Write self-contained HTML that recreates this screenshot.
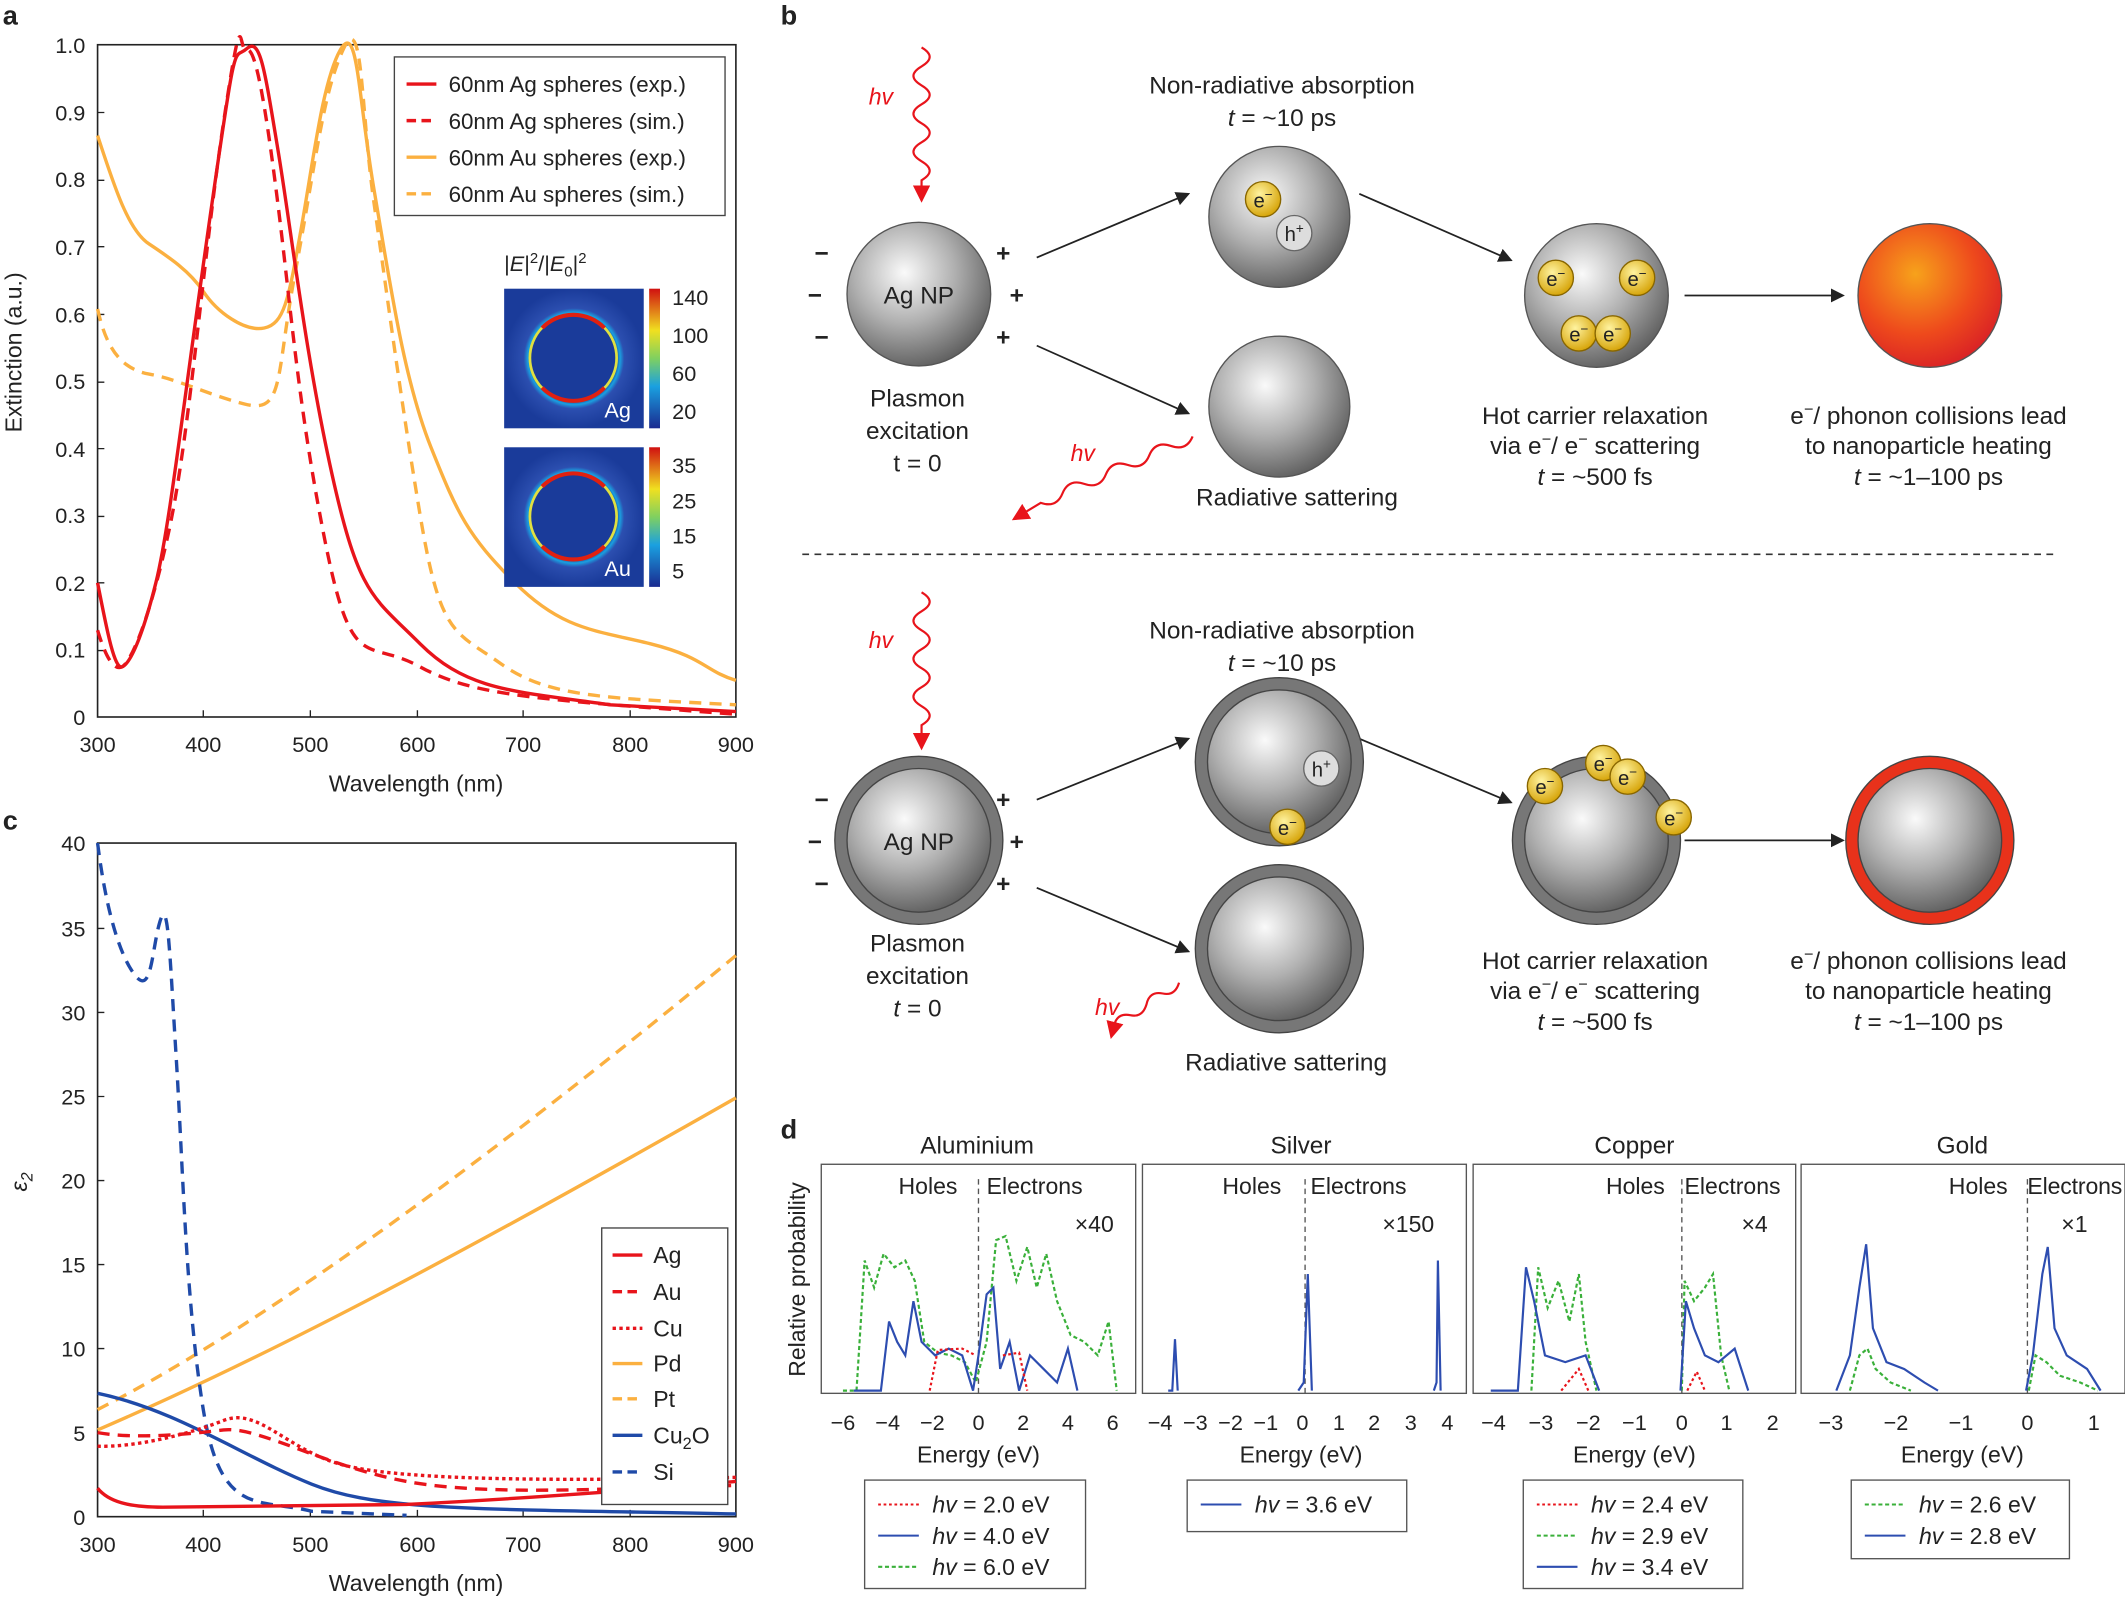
<!DOCTYPE html>
<html><head><meta charset="utf-8"><style>
html,body{margin:0;padding:0;background:#fff}
svg{display:block}
text{font-family:"Liberation Sans",sans-serif;fill:#222}
</style></head><body>
<svg width="2125" height="1598" viewBox="0 0 1568 1179" preserveAspectRatio="none" xmlns="http://www.w3.org/2000/svg">
<defs>
<radialGradient id="sph" cx="0.4" cy="0.35" r="0.7"><stop offset="0" stop-color="#fafafa"/><stop offset="0.5" stop-color="#b0b0b0"/><stop offset="1" stop-color="#5a5a5a"/></radialGradient>
<radialGradient id="hot" cx="0.4" cy="0.35" r="0.7"><stop offset="0" stop-color="#f7a21b"/><stop offset="0.6" stop-color="#ee4a1c"/><stop offset="1" stop-color="#d81f26"/></radialGradient>
<radialGradient id="el" cx="0.4" cy="0.35" r="0.7"><stop offset="0" stop-color="#fff3a0"/><stop offset="1" stop-color="#d4a000"/></radialGradient>
<radialGradient id="hm" cx="0.5" cy="0.5" r="0.5"><stop offset="0.6" stop-color="#1a3b9a"/><stop offset="0.66" stop-color="#1aa0e0"/><stop offset="0.72" stop-color="#2c4fb0"/><stop offset="1" stop-color="#1a3b9a"/></radialGradient>
<linearGradient id="cb" x1="0" y1="1" x2="0" y2="0"><stop offset="0" stop-color="#1a2a90"/><stop offset="0.3" stop-color="#1aa0e0"/><stop offset="0.5" stop-color="#7fd060"/><stop offset="0.7" stop-color="#f0e020"/><stop offset="1" stop-color="#d01010"/></linearGradient>
<marker id="ar" markerWidth="8" markerHeight="8" refX="7" refY="4" orient="auto"><path d="M0,0 L8,4 L0,8 z" fill="#222"/></marker>
<marker id="arr" markerWidth="8" markerHeight="8" refX="7" refY="4" orient="auto"><path d="M0,0 L8,4 L0,8 z" fill="#e8141b"/></marker>
</defs>

<!-- Panel a -->
<text x="2" y="18" font-size="20" font-weight="bold">a</text>
<rect x="72" y="33" width="471" height="496" fill="none" stroke="#222" stroke-width="1.2"/>
<g font-size="16" text-anchor="end">
<text x="63" y="535">0</text><text x="63" y="485">0.1</text><text x="63" y="436">0.2</text><text x="63" y="386">0.3</text><text x="63" y="337">0.4</text><text x="63" y="287">0.5</text><text x="63" y="238">0.6</text><text x="63" y="188">0.7</text><text x="63" y="138">0.8</text><text x="63" y="89">0.9</text><text x="63" y="39">1.0</text>
</g>
<g stroke="#222"><path d="M72,480h5M72,430h5M72,381h5M72,331h5M72,282h5M72,232h5M72,182h5M72,133h5M72,83h5M150,529v-5M229,529v-5M308,529v-5M386,529v-5M465,529v-5"/></g>
<g font-size="16" text-anchor="middle"><text x="72" y="555">300</text><text x="150" y="555">400</text><text x="229" y="555">500</text><text x="308" y="555">600</text><text x="386" y="555">700</text><text x="465" y="555">800</text><text x="543" y="555">900</text></g>
<text x="307" y="584" font-size="17" text-anchor="middle">Wavelength (nm)</text>
<text transform="translate(16,260) rotate(-90)" font-size="17" text-anchor="middle">Extinction (a.u.)</text>
<g fill="none" stroke-width="2.5">
<path stroke="#fbb040" d="M72,100 C85,140 95,170 110,180 S140,200 150,215 S180,245 195,242 S213,220 222,170 S238,60 251,37 S264,70 276,140 S298,280 318,330 S345,395 380,430 S440,465 480,475 S520,495 543,502"/>
<path stroke="#fbb040" stroke-dasharray="9,6" d="M72,228 C78,255 88,272 110,276 S150,290 180,298 S203,280 218,200 S238,70 253,37 S266,80 276,150 S295,290 310,380 S335,465 370,490 S450,515 543,520"/>
<path stroke="#e8141b" d="M72,430 C78,460 84,494 90,492 S105,470 115,430 S135,300 155,160 S172,45 182,36 S195,50 205,110 S225,260 245,350 S275,440 310,475 S380,510 450,520 L543,525"/>
<path stroke="#e8141b" stroke-dasharray="9,6" d="M72,465 C78,485 84,495 90,492 S110,460 125,390 S150,190 165,90 S176,40 182,37 S195,70 205,150 S220,300 240,400 S270,470 310,492 S400,516 543,527"/>
</g>
<rect x="291" y="42" width="244" height="117" fill="#fff" stroke="#444"/>
<g font-size="16.5">
<path d="M300,62h22" stroke="#e8141b" stroke-width="2.5"/><text x="331" y="68">60nm Ag spheres (exp.)</text>
<path d="M300,89h22" stroke="#e8141b" stroke-width="2.5" stroke-dasharray="7,4"/><text x="331" y="95">60nm Ag spheres (sim.)</text>
<path d="M300,116h22" stroke="#fbb040" stroke-width="2.5"/><text x="331" y="122">60nm Au spheres (exp.)</text>
<path d="M300,143h22" stroke="#fbb040" stroke-width="2.5" stroke-dasharray="7,4"/><text x="331" y="149">60nm Au spheres (sim.)</text>
</g>
<text x="372" y="200" font-size="16">|<tspan font-style="italic">E</tspan>|<tspan dy="-6" font-size="11">2</tspan><tspan dy="6">/|</tspan><tspan font-style="italic">E</tspan><tspan dy="4" font-size="11">0</tspan><tspan dy="-4">|</tspan><tspan dy="-6" font-size="11">2</tspan></text>
<rect x="372" y="213" width="103" height="103" fill="url(#hm)"/>
<circle cx="423" cy="264" r="32" fill="#1a3b9a" stroke="#e0e040" stroke-width="2"/>
<path d="M400,242 A32,32 0 0 1 446,242" stroke="#e02010" stroke-width="3" fill="none"/><path d="M400,286 A32,32 0 0 0 446,286" stroke="#e02010" stroke-width="3" fill="none"/>
<text x="446" y="308" font-size="16" style="fill:#fff">Ag</text>
<rect x="479" y="213" width="8" height="103" fill="url(#cb)"/>
<g font-size="16"><text x="496" y="225">140</text><text x="496" y="253">100</text><text x="496" y="281">60</text><text x="496" y="309">20</text></g>
<rect x="372" y="330" width="103" height="103" fill="url(#hm)"/>
<circle cx="423" cy="381" r="32" fill="#1a3b9a" stroke="#e0e040" stroke-width="2"/>
<path d="M400,359 A32,32 0 0 1 446,359" stroke="#e02010" stroke-width="3" fill="none"/><path d="M400,403 A32,32 0 0 0 446,403" stroke="#e02010" stroke-width="3" fill="none"/>
<text x="446" y="425" font-size="16" style="fill:#fff">Au</text>
<rect x="479" y="330" width="8" height="103" fill="url(#cb)"/>
<g font-size="16"><text x="496" y="349">35</text><text x="496" y="375">25</text><text x="496" y="401">15</text><text x="496" y="427">5</text></g>

<!-- Panel c -->
<text x="2" y="612" font-size="20" font-weight="bold">c</text>
<rect x="72" y="622" width="471" height="497" fill="none" stroke="#222" stroke-width="1.2"/>
<g font-size="16" text-anchor="end">
<text x="63" y="1125">0</text><text x="63" y="1063">5</text><text x="63" y="1001">10</text><text x="63" y="939">15</text><text x="63" y="877">20</text><text x="63" y="815">25</text><text x="63" y="753">30</text><text x="63" y="691">35</text><text x="63" y="628">40</text>
</g>
<g stroke="#222"><path d="M72,1057h5M72,995h5M72,933h5M72,871h5M72,809h5M72,747h5M72,685h5M150,1119v-5M229,1119v-5M308,1119v-5M386,1119v-5M465,1119v-5"/></g>
<g font-size="16" text-anchor="middle"><text x="72" y="1145">300</text><text x="150" y="1145">400</text><text x="229" y="1145">500</text><text x="308" y="1145">600</text><text x="386" y="1145">700</text><text x="465" y="1145">800</text><text x="543" y="1145">900</text></g>
<text x="307" y="1174" font-size="17" text-anchor="middle">Wavelength (nm)</text>
<text transform="translate(20,872) rotate(-90)" font-size="17" font-style="italic" text-anchor="middle">ε<tspan dy="4" font-size="12">2</tspan></text>
<g fill="none" stroke-width="2.5">
<path stroke="#fbb040" d="M72,1055 C200,1000 350,920 543,810"/>
<path stroke="#fbb040" stroke-dasharray="9,6" d="M72,1040 C200,975 380,840 543,705"/>
<path stroke="#1f4aa8" d="M72,1028 C130,1040 180,1075 230,1095 S350,1113 543,1117"/>
<path stroke="#1f4aa8" stroke-dasharray="9,6" d="M72,622 C78,670 88,705 100,720 S112,700 118,680 S125,700 130,780 S137,960 150,1040 S190,1105 230,1115 L300,1118"/>
<path stroke="#e8141b" d="M72,1098 C80,1108 95,1112 120,1112 L300,1110 C400,1105 500,1097 543,1093"/>
<path stroke="#e8141b" stroke-dasharray="9,6" d="M72,1057 C100,1062 140,1058 165,1055 S240,1082 300,1093 S450,1098 543,1096"/>
<path stroke="#e8141b" stroke-dasharray="2.5,2.5" d="M72,1067 C100,1068 140,1058 165,1048 S210,1068 250,1080 S400,1093 543,1090"/>
</g>
<rect x="444" y="906" width="93" height="204" fill="#fff" stroke="#444"/>
<g font-size="17">
<path d="M452,926h22" stroke="#e8141b" stroke-width="2.5"/><text x="482" y="932">Ag</text>
<path d="M452,953h22" stroke="#e8141b" stroke-width="2.5" stroke-dasharray="7,4"/><text x="482" y="959">Au</text>
<path d="M452,980h22" stroke="#e8141b" stroke-width="2.5" stroke-dasharray="2.5,2.5"/><text x="482" y="986">Cu</text>
<path d="M452,1006h22" stroke="#fbb040" stroke-width="2.5"/><text x="482" y="1012">Pd</text>
<path d="M452,1032h22" stroke="#fbb040" stroke-width="2.5" stroke-dasharray="7,4"/><text x="482" y="1038">Pt</text>
<path d="M452,1059h22" stroke="#1f4aa8" stroke-width="2.5"/><text x="482" y="1065">Cu<tspan dy="4" font-size="12">2</tspan><tspan dy="-4">O</tspan></text>
<path d="M452,1086h22" stroke="#1f4aa8" stroke-width="2.5" stroke-dasharray="7,4"/><text x="482" y="1092">Si</text>
</g>

<!-- Panel b -->
<text x="576" y="18" font-size="20" font-weight="bold">b</text>
<g font-size="18" text-anchor="middle">
<text x="946" y="69">Non-radiative absorption</text><text x="946" y="93"><tspan font-style="italic">t</tspan> = ~10 ps</text>
<text x="677" y="300">Plasmon</text><text x="677" y="324">excitation</text><text x="677" y="348">t = 0</text>
<text x="957" y="373">Radiative sattering</text>
<text x="1177" y="313">Hot carrier relaxation</text><text x="1177" y="335">via e<tspan dy="-7" font-size="12">−</tspan><tspan dy="7">/ e</tspan><tspan dy="-7" font-size="12">−</tspan><tspan dy="7"> scattering</tspan></text><text x="1177" y="358"><tspan font-style="italic">t</tspan> = ~500 fs</text>
<text x="1423" y="313">e<tspan dy="-7" font-size="12">−</tspan><tspan dy="7">/ phonon collisions lead</tspan></text><text x="1423" y="335">to nanoparticle heating</text><text x="1423" y="358"><tspan font-style="italic">t</tspan> = ~1–100 ps</text>

<text x="946" y="471">Non-radiative absorption</text><text x="946" y="495"><tspan font-style="italic">t</tspan> = ~10 ps</text>
<text x="677" y="702">Plasmon</text><text x="677" y="726">excitation</text><text x="677" y="750"><tspan font-style="italic">t</tspan> = 0</text>
<text x="949" y="790">Radiative sattering</text>
<text x="1177" y="715">Hot carrier relaxation</text><text x="1177" y="737">via e<tspan dy="-7" font-size="12">−</tspan><tspan dy="7">/ e</tspan><tspan dy="-7" font-size="12">−</tspan><tspan dy="7"> scattering</tspan></text><text x="1177" y="760"><tspan font-style="italic">t</tspan> = ~500 fs</text>
<text x="1423" y="715">e<tspan dy="-7" font-size="12">−</tspan><tspan dy="7">/ phonon collisions lead</tspan></text><text x="1423" y="737">to nanoparticle heating</text><text x="1423" y="760"><tspan font-style="italic">t</tspan> = ~1–100 ps</text>
</g>
<!-- top row -->
<circle cx="678" cy="217" r="53" fill="url(#sph)" stroke="#555"/>
<text x="678" y="224" font-size="18" text-anchor="middle">Ag NP</text>
<g font-size="18" font-weight="bold"><text x="601" y="193">−</text><text x="596" y="224">−</text><text x="601" y="255">−</text><text x="735" y="193">+</text><text x="745" y="224">+</text><text x="735" y="255">+</text></g>
<circle cx="944" cy="160" r="52" fill="url(#sph)" stroke="#555"/>
<circle cx="944" cy="300" r="52" fill="url(#sph)" stroke="#555"/>
<circle cx="1178" cy="218" r="53" fill="url(#sph)" stroke="#555"/>
<circle cx="1424" cy="218" r="53" fill="url(#hot)" stroke="#555"/>
<circle cx="932" cy="147" r="13" fill="url(#el)" stroke="#886600"/><text x="932" y="153" font-size="15" text-anchor="middle">e<tspan dy="-6" font-size="10">−</tspan></text>
<circle cx="955" cy="172" r="13" fill="#ddd" stroke="#666"/><text x="955" y="178" font-size="15" text-anchor="middle">h<tspan dy="-6" font-size="10">+</tspan></text>
<g font-size="15" text-anchor="middle">
<circle cx="1148" cy="205" r="13" fill="url(#el)" stroke="#886600"/><text x="1148" y="211">e<tspan dy="-6" font-size="10">−</tspan></text>
<circle cx="1208" cy="205" r="13" fill="url(#el)" stroke="#886600"/><text x="1208" y="211">e<tspan dy="-6" font-size="10">−</tspan></text>
<circle cx="1165" cy="246" r="13" fill="url(#el)" stroke="#886600"/><text x="1165" y="252">e<tspan dy="-6" font-size="10">−</tspan></text>
<circle cx="1190" cy="246" r="13" fill="url(#el)" stroke="#886600"/><text x="1190" y="252">e<tspan dy="-6" font-size="10">−</tspan></text>
</g>
<g stroke="#222" stroke-width="1.3" marker-end="url(#ar)">
<path d="M765,190 L877,143"/><path d="M765,255 L877,305"/><path d="M1003,143 L1115,192"/><path d="M1243,218 L1360,218"/>
<path d="M765,590 L877,545"/><path d="M765,655 L877,702"/><path d="M1003,545 L1115,592"/><path d="M1243,620 L1360,620"/>
</g>
<g fill="none" stroke="#e8141b" stroke-width="1.6">
<path d="M680,35 q12,7 0,14 q-12,7 0,14 q12,7 0,14 q-12,7 0,14 q12,7 0,14 q-12,7 0,14 q12,7 0,14 L680,148" marker-end="url(#arr)"/>
<path d="M880,322 q-4.5,11 -16,7 q-11.5,-4 -16,7 q-4.5,11 -16,7 q-11.5,-4 -16,7 q-4.5,11 -16,7 q-11.5,-4 -16,7 q-4.5,11 -16,7 L748,383" marker-end="url(#arr)"/>
<path d="M680,437 q12,7 0,14 q-12,7 0,14 q12,7 0,14 q-12,7 0,14 q12,7 0,14 q-12,7 0,14 q12,7 0,14 L680,552" marker-end="url(#arr)"/>
<path d="M870,725 q-3,10 -12,8 q-10,-2 -12,8 q-3,10 -12,8 q-10,-2 -12,8 L820,765" marker-end="url(#arr)"/>
</g>
<g font-size="17" font-style="italic"><text x="641" y="77" style="fill:#e8141b">hv</text><text x="790" y="340" style="fill:#e8141b">hv</text><text x="641" y="478" style="fill:#e8141b">hv</text><text x="808" y="749" style="fill:#e8141b">hv</text></g>
<path d="M592,409 H1518" stroke="#333" stroke-width="1.2" stroke-dasharray="5,4"/>
<!-- bottom row -->
<circle cx="678" cy="620" r="62" fill="#777" stroke="#444"/><circle cx="678" cy="620" r="53" fill="url(#sph)" stroke="#444"/>
<text x="678" y="627" font-size="18" text-anchor="middle">Ag NP</text>
<g font-size="18" font-weight="bold"><text x="601" y="596">−</text><text x="596" y="627">−</text><text x="601" y="658">−</text><text x="735" y="596">+</text><text x="745" y="627">+</text><text x="735" y="658">+</text></g>
<circle cx="944" cy="562" r="62" fill="#777" stroke="#444"/><circle cx="944" cy="562" r="53" fill="url(#sph)" stroke="#444"/>
<circle cx="944" cy="700" r="62" fill="#777" stroke="#444"/><circle cx="944" cy="700" r="53" fill="url(#sph)" stroke="#444"/>
<circle cx="1178" cy="620" r="62" fill="#777" stroke="#444"/><circle cx="1178" cy="620" r="53" fill="url(#sph)" stroke="#444"/>
<circle cx="1424" cy="620" r="62" fill="#e8321b" stroke="#444"/><circle cx="1424" cy="620" r="53" fill="url(#sph)" stroke="#444"/>
<g font-size="15" text-anchor="middle">
<circle cx="975" cy="567" r="13" fill="#ddd" stroke="#666"/><text x="975" y="573">h<tspan dy="-6" font-size="10">+</tspan></text>
<circle cx="950" cy="610" r="13" fill="url(#el)" stroke="#886600"/><text x="950" y="616">e<tspan dy="-6" font-size="10">−</tspan></text>
<circle cx="1140" cy="580" r="13" fill="url(#el)" stroke="#886600"/><text x="1140" y="586">e<tspan dy="-6" font-size="10">−</tspan></text>
<circle cx="1183" cy="563" r="13" fill="url(#el)" stroke="#886600"/><text x="1183" y="569">e<tspan dy="-6" font-size="10">−</tspan></text>
<circle cx="1201" cy="573" r="13" fill="url(#el)" stroke="#886600"/><text x="1201" y="579">e<tspan dy="-6" font-size="10">−</tspan></text>
<circle cx="1235" cy="603" r="13" fill="url(#el)" stroke="#886600"/><text x="1235" y="609">e<tspan dy="-6" font-size="10">−</tspan></text>
</g>

<!-- Panel d -->
<text x="576" y="840" font-size="20" font-weight="bold">d</text>
<text transform="translate(594,944) rotate(-90)" font-size="17" text-anchor="middle">Relative probability</text>
<g font-size="18" text-anchor="middle">
<text x="721" y="851">Aluminium</text><text x="960" y="851">Silver</text><text x="1206" y="851">Copper</text><text x="1448" y="851">Gold</text>
</g>
<g fill="none" stroke="#555" stroke-width="1">
<rect x="606" y="859" width="232" height="169"/><rect x="843" y="859" width="239" height="169"/><rect x="1087" y="859" width="238" height="169"/><rect x="1329" y="859" width="239" height="169"/>
</g>
<g stroke="#555" stroke-dasharray="4,3"><path d="M722,870V1028M963,870V1028M1241,870V1028M1496,870V1028"/></g>
<g font-size="17">
<text x="663" y="881">Holes</text><text x="728" y="881">Electrons</text><text x="793" y="909">×40</text>
<text x="902" y="881">Holes</text><text x="967" y="881">Electrons</text><text x="1020" y="909">×150</text>
<text x="1185" y="881">Holes</text><text x="1243" y="881">Electrons</text><text x="1285" y="909">×4</text>
<text x="1438" y="881">Holes</text><text x="1496" y="881" textLength="70">Electrons</text><text x="1521" y="909">×1</text>
</g>
<g fill="none" stroke-width="1.6">
<path stroke="#3ab03a" stroke-dasharray="3,2" d="M622,1026 L632,1026 638,930 645,950 652,925 660,935 668,930 675,945 682,990 692,998 702,1000 712,1005 720,1020 728,990 735,915 742,912 750,945 758,920 765,950 772,925 780,960 790,985 800,990 810,1000 818,975 824,1026"/>
<path stroke="#2d4db0" d="M630,1026 L650,1026 656,975 662,990 668,1000 674,960 680,990 690,1000 700,995 710,1000 718,1026 722,1000 728,955 733,950 738,1010 745,990 752,1026 760,1000 770,1010 780,1020 788,995 795,1026"/>
<path stroke="#e8141b" stroke-dasharray="2,2" d="M686,1026 L692,996 710,995 720,1000 M740,1000 L752,998 758,1026"/>
<path stroke="#2d4db0" d="M862,1026 L865,1026 867,988 869,1026 M958,1026 L962,1020 965,940 968,1026 M1058,1026 L1060,1020 1061,930 1063,1026"/>
<path stroke="#3ab03a" stroke-dasharray="3,2" d="M1130,1026 L1135,935 1142,965 1150,945 1158,975 1165,940 1170,990 1178,1026 M1241,1026 L1243,945 1250,960 1258,950 1264,940 1270,1000 1276,1026"/>
<path stroke="#2d4db0" d="M1100,1026 L1120,1026 1126,935 1132,960 1140,1000 1155,1005 1170,1000 1180,1026 M1240,1026 L1244,960 1250,980 1258,1000 1268,1005 1280,995 1290,1026"/>
<path stroke="#e8141b" stroke-dasharray="2,2" d="M1152,1026 L1165,1010 1172,1026 M1245,1026 L1252,1012 1258,1026"/>
<path stroke="#2d4db0" d="M1355,1026 L1365,1000 1372,950 1377,918 1382,980 1392,1005 1405,1010 1420,1020 1430,1026 M1495,1026 L1500,1000 1507,940 1511,920 1516,980 1525,1000 1540,1010 1550,1026"/>
<path stroke="#3ab03a" stroke-dasharray="3,2" d="M1365,1026 L1372,1000 1378,995 1384,1010 1395,1020 1410,1026 M1497,1026 L1502,1000 1510,1005 1520,1015 1535,1020 1548,1026"/>
</g>
<g font-size="16" text-anchor="middle">
<text x="622" y="1055">−6</text><text x="655" y="1055">−4</text><text x="688" y="1055">−2</text><text x="722" y="1055">0</text><text x="755" y="1055">2</text><text x="788" y="1055">4</text><text x="821" y="1055">6</text>
<text x="856" y="1055">−4</text><text x="882" y="1055">−3</text><text x="908" y="1055">−2</text><text x="934" y="1055">−1</text><text x="961" y="1055">0</text><text x="988" y="1055">1</text><text x="1014" y="1055">2</text><text x="1041" y="1055">3</text><text x="1068" y="1055">4</text>
<text x="1102" y="1055">−4</text><text x="1137" y="1055">−3</text><text x="1172" y="1055">−2</text><text x="1206" y="1055">−1</text><text x="1241" y="1055">0</text><text x="1274" y="1055">1</text><text x="1308" y="1055">2</text>
<text x="1351" y="1055">−3</text><text x="1399" y="1055">−2</text><text x="1447" y="1055">−1</text><text x="1496" y="1055">0</text><text x="1545" y="1055">1</text>
<text x="722" y="1079" font-size="17">Energy (eV)</text><text x="960" y="1079" font-size="17">Energy (eV)</text><text x="1206" y="1079" font-size="17">Energy (eV)</text><text x="1448" y="1079" font-size="17">Energy (eV)</text>
</g>
<g fill="none" stroke="#555"><rect x="638" y="1092" width="163" height="80"/><rect x="876" y="1092" width="162" height="38"/><rect x="1124" y="1092" width="162" height="80"/><rect x="1366" y="1092" width="161" height="58"/></g>
<g font-size="17">
<path d="M648,1110h30" stroke="#e8141b" stroke-dasharray="2,2" stroke-width="1.5"/><text x="688" y="1116"><tspan font-style="italic">hv</tspan> = 2.0 eV</text>
<path d="M648,1133h30" stroke="#2d4db0" stroke-width="1.5"/><text x="688" y="1139"><tspan font-style="italic">hv</tspan> = 4.0 eV</text>
<path d="M648,1156h30" stroke="#3ab03a" stroke-dasharray="3,2" stroke-width="1.5"/><text x="688" y="1162"><tspan font-style="italic">hv</tspan> = 6.0 eV</text>
<path d="M886,1110h30" stroke="#2d4db0" stroke-width="1.5"/><text x="926" y="1116"><tspan font-style="italic">hv</tspan> = 3.6 eV</text>
<path d="M1134,1110h30" stroke="#e8141b" stroke-dasharray="2,2" stroke-width="1.5"/><text x="1174" y="1116"><tspan font-style="italic">hv</tspan> = 2.4 eV</text>
<path d="M1134,1133h30" stroke="#3ab03a" stroke-dasharray="3,2" stroke-width="1.5"/><text x="1174" y="1139"><tspan font-style="italic">hv</tspan> = 2.9 eV</text>
<path d="M1134,1156h30" stroke="#2d4db0" stroke-width="1.5"/><text x="1174" y="1162"><tspan font-style="italic">hv</tspan> = 3.4 eV</text>
<path d="M1376,1110h30" stroke="#3ab03a" stroke-dasharray="3,2" stroke-width="1.5"/><text x="1416" y="1116"><tspan font-style="italic">hv</tspan> = 2.6 eV</text>
<path d="M1376,1133h30" stroke="#2d4db0" stroke-width="1.5"/><text x="1416" y="1139"><tspan font-style="italic">hv</tspan> = 2.8 eV</text>
</g>
</svg>
</body></html>
